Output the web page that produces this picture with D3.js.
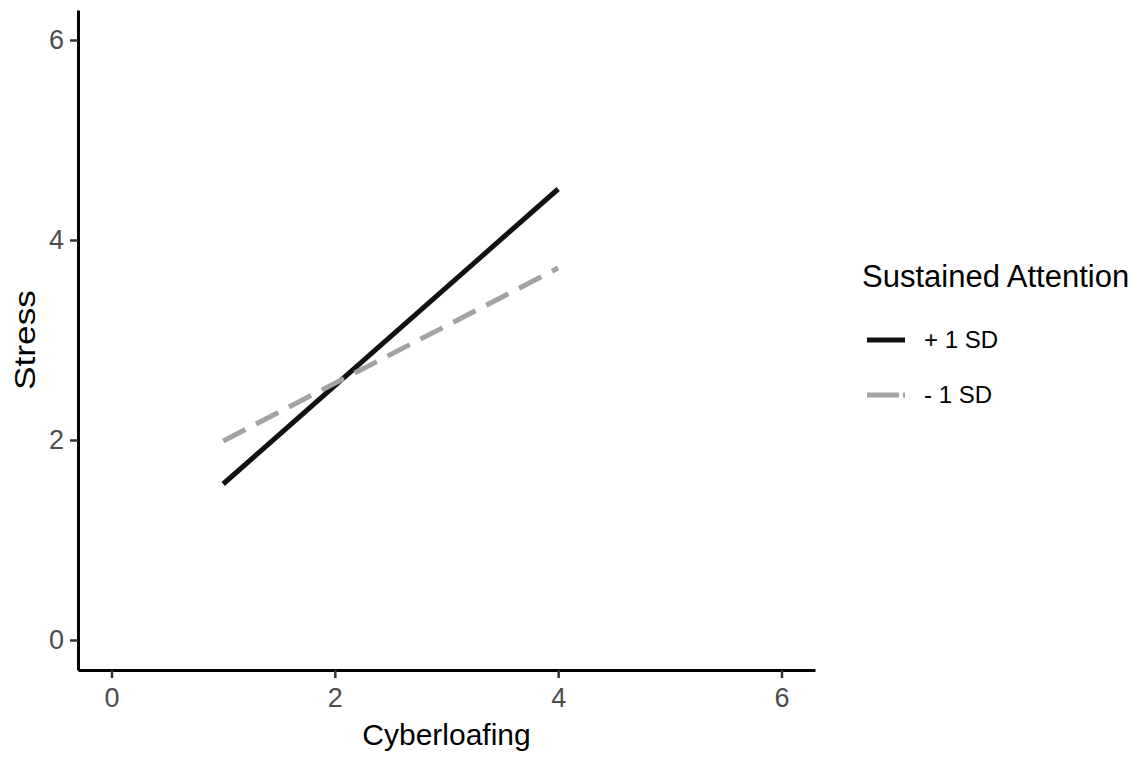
<!DOCTYPE html>
<html>
<head>
<meta charset="utf-8">
<script src="https://cdn.jsdelivr.net/npm/d3@7"></script>
<style>
  body { margin: 0; background: #fff; }
  svg { display: block; font-family: "Liberation Sans", Arial, sans-serif; }
</style>
</head>
<body>
<svg id="chart" width="1137" height="762"></svg>
<script>
// simple slopes
const cyberloafing = [1, 4]
const stressHigh = [1.56, 4.51]   // + 1 SD
const stressLow = [1.99, 3.72]    // - 1 SD
const seriesNames = ["+ 1 SD", "- 1 SD"]
const xTicks = [0, 2, 4, 6]
const yTicks = [0, 2, 4, 6]

const svg = d3.select("#chart")

const x = d3.scaleLinear().domain([-0.3, 6.3]).range([78, 815])
const y = d3.scaleLinear().domain([-0.3, 6.3]).range([670, 10])

const series = [
  { name: seriesNames[0], values: stressHigh, color: "#111111", dash: null },
  { name: seriesNames[1], values: stressLow, color: "#a3a3a3", dash: "25,12" },
]

const line = d3.line()
  .x((d) => x(d[0]))
  .y((d) => y(d[1]))

svg.selectAll(".slope")
  .data(series)
  .enter()
  .append("path")
  .attr("class", "slope")
  .attr("d", (s) => line(d3.zip(cyberloafing, s.values)))
  .attr("fill", "none")
  .attr("stroke", (s) => s.color)
  .attr("stroke-width", 5)
  .attr("stroke-dasharray", (s) => s.dash)

// axes
const fmt = d3.format("d")
const xAxis = svg.append("g")
  .attr("transform", "translate(0,670)")
  .call(d3.axisBottom(x).tickValues(xTicks).tickFormat(fmt).tickSize(8).tickSizeOuter(0).tickPadding(10))

const yAxis = svg.append("g")
  .attr("transform", "translate(78,0)")
  .call(d3.axisLeft(y).tickValues(yTicks).tickFormat(fmt).tickSize(8).tickSizeOuter(0).tickPadding(6))

for (const ax of [xAxis, yAxis]) {
  ax.select(".domain").attr("stroke", "#000").attr("stroke-width", 3)
  ax.selectAll(".tick line").attr("stroke", "#333").attr("stroke-width", 2.5)
  ax.selectAll(".tick text")
    .attr("fill", "#4d4d4d")
    .style("font-size", "27px")
    .style("font-family", "'Liberation Sans', Arial, sans-serif")
}

svg.append("text")
  .attr("x", (x.range()[0] + x.range()[1]) / 2)
  .attr("y", 745)
  .attr("text-anchor", "middle")
  .style("font-size", "30px")
  .text("Cyberloafing")

svg.append("text")
  .attr("transform", "translate(35," + y(3) + ") rotate(-90)")
  .attr("text-anchor", "middle")
  .attr("textLength", 100)
  .attr("lengthAdjust", "spacingAndGlyphs")
  .style("font-size", "30px")
  .text("Stress")

// legend
const legend = svg.append("g").attr("transform", "translate(862,0)")
legend.append("text")
  .attr("x", 0)
  .attr("y", 287)
  .style("font-size", "31px")
  .text("Sustained Attention")

const keys = legend.selectAll(".key")
  .data(series)
  .enter()
  .append("g")
  .attr("class", "key")
  .attr("transform", (d, i) => `translate(0,${340 + i * 55})`)

keys.append("line")
  .attr("x1", 5)
  .attr("x2", 43)
  .attr("stroke", (d) => d.color)
  .attr("stroke-width", 5)
  .attr("stroke-dasharray", (d) => (d.dash ? "32,4,2,100" : null))

keys.append("text")
  .attr("x", 62)
  .attr("y", 8)
  .style("font-size", "24px")
  .text((d) => d.name)
</script>
</body>
</html>
